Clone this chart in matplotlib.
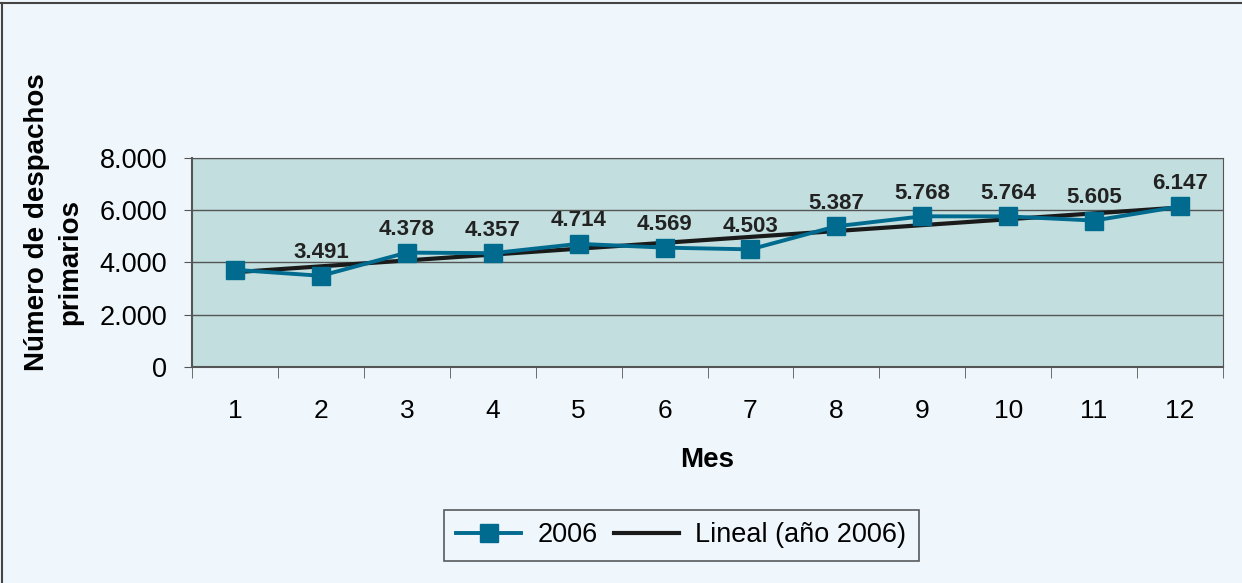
import numpy as np
import matplotlib.pyplot as plt
from matplotlib.ticker import FuncFormatter

# Monthly primary dispatches, 2006
months = [1, 2, 3, 4, 5, 6, 7, 8, 9, 10, 11, 12]
despachos = [3720, 3491, 4378, 4357, 4714, 4569, 4503, 5387, 5768, 5764, 5605, 6147]
show_label = [False] + [True] * 11

line_color = "#006b8f"
plot_bg = "#c2dede"
fig_bg = "#eff7fd"

plt.rcParams["font.family"] = ["Liberation Sans", "DejaVu Sans"]

fig = plt.figure(figsize=(12.42, 5.83), dpi=100, facecolor=fig_bg)
ax = fig.add_axes([0.1546, 0.3705, 0.8301, 0.3585])
ax.set_facecolor(plot_bg)

x = np.arange(len(months))
ax.plot(x, despachos, color=line_color, lw=2.8, marker="s", ms=12.5,
        label="2006", zorder=4)

# linear trend
slope, intercept = np.polyfit(x, despachos, 1)
ax.plot(x, slope * x + intercept, color="#1a1a1a", lw=3,
        label="Lineal (año 2006)", zorder=3)

for xi, v, show in zip(x, despachos, show_label):
    if show:
        ax.annotate(f"{v / 1000:.3f}", (xi, v), xytext=(0, 12.5),
                    textcoords="offset points", ha="center", va="baseline",
                    fontsize=16, fontweight="bold", color="#222222")

ax.set_xlim(-0.5, len(months) - 0.5)
ax.set_ylim(0, 8000)
ax.set_yticks([0, 2000, 4000, 6000, 8000])
ax.yaxis.set_major_formatter(FuncFormatter(
    lambda v, p: "0" if v == 0 else f"{v / 1000:.3f}"))
ax.grid(axis="y", color="#555555", lw=1)
ax.set_axisbelow(True)

ax.set_xticks(x)
ax.set_xticklabels([str(m) for m in months])
ax.set_xticks(np.arange(len(months) + 1) - 0.5, minor=True)
ax.tick_params(axis="x", which="major", length=0, pad=23, labelsize=19)
ax.tick_params(axis="x", which="minor", length=8, color="#555555")
ax.tick_params(axis="y", length=6, color="#555555", labelsize=19.5, pad=12)

for s in ["top", "right"]:
    ax.spines[s].set_color("#555555")
for s in ["left", "bottom"]:
    ax.spines[s].set_color("#555555")
    ax.spines[s].set_linewidth(1.5)

ax.set_xlabel("Mes", fontsize=20, fontweight="bold", labelpad=17)

# y label, two lines placed separately
fig.text(37 / 1242, 1 - 222 / 583, "Número de despachos", rotation=90,
         ha="center", va="center", fontsize=20, fontweight="bold")
fig.text(70 / 1242, 1 - 262 / 583, "primarios", rotation=90,
         ha="center", va="center", fontsize=20, fontweight="bold")

leg = fig.legend(loc="center", bbox_to_anchor=(0.5487, 0.0815),
                 ncol=2, frameon=True, fontsize=19.5, fancybox=False,
                 handlelength=2.4, handletextpad=0.6, markerscale=1.0,
                 columnspacing=0.6, borderpad=0.45)
leg.get_frame().set_edgecolor("#333333")
leg.get_frame().set_facecolor(fig_bg)
leg.get_frame().set_linewidth(1.2)

# outer frame
fig.add_artist(plt.Line2D([0.002, 0.002], [0, 0.995], color="#444444",
                          lw=1.5, transform=fig.transFigure))
fig.add_artist(plt.Line2D([0, 1], [0.995, 0.995], color="#444444",
                          lw=1.5, transform=fig.transFigure))

fig.savefig("out.png", dpi=100, facecolor=fig_bg)
